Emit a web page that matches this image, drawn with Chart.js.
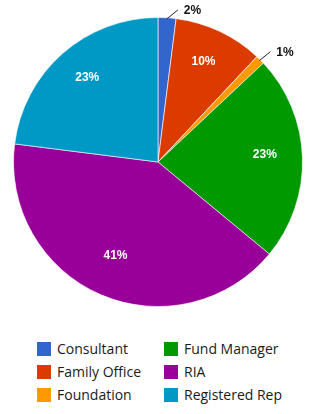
<!DOCTYPE html>
<html>
<head>
<meta charset="utf-8">
<script src="https://cdn.jsdelivr.net/npm/chart.js@4/dist/chart.umd.min.js"></script>
<style>
  html, body { margin: 0; padding: 0; background: #fff; }
  #wrap { position: relative; width: 324px; height: 322px; }
  #legend { position: relative; width: 324px; height: 92px; font-family: "Open Sans", sans-serif; font-size: 14px; color: #1a1a1a; }
  .col { position: absolute; top: 15px; }
  .item { height: 23px; display: flex; align-items: center; white-space: nowrap; }
  .box { width: 14px; height: 14px; margin-right: 6px; flex: none; }
</style>
</head>
<body>
<div id="wrap"><canvas id="c"></canvas></div>
<div id="legend"></div>
<script>
const categories = ["Consultant", "Family Office", "Foundation", "Fund Manager", "RIA", "Registered Rep"];
const values = [2, 10, 1, 23, 41, 23];
const colors = ["#3366cc", "#dc3b00", "#ff9900", "#009900", "#990099", "#0099c6"];

const labelPlugin = {
  id: 'sliceLabels',
  afterDatasetsDraw(chart) {
    const ctx = chart.ctx;
    const meta = chart.getDatasetMeta(0);
    const total = values.reduce((a, b) => a + b, 0);
    meta.data.forEach((arc, i) => {
      const p = arc.getProps(['x', 'y', 'startAngle', 'endAngle', 'outerRadius'], true);
      const frac = values[i] / total;
      const txt = Math.round(frac * 100) + '%';
      const mid = (p.startAngle + p.endAngle) / 2;
      ctx.save();
      ctx.font = 'bold 12px "Liberation Sans", Arial, sans-serif';
      if (frac >= 0.05) {
        const r = p.outerRadius * 0.74;
        ctx.fillStyle = '#ffffff';
        ctx.textAlign = 'center';
        ctx.textBaseline = 'middle';
        ctx.fillText(txt, p.x + r * Math.cos(mid), p.y + r * Math.sin(mid) - 4);
      } else {
        const rs = p.outerRadius - 1;
        const sx = p.x + rs * Math.cos(mid), sy = p.y + rs * Math.sin(mid);
        const dir = Math.max(mid, -Math.PI / 4.6);
        const L = 14;
        const ex = sx + L * Math.cos(dir), ey = sy + L * Math.sin(dir);
        ctx.strokeStyle = '#222';
        ctx.lineWidth = 1;
        ctx.beginPath();
        ctx.moveTo(sx, sy);
        ctx.lineTo(ex, ey);
        ctx.stroke();
        ctx.fillStyle = '#111';
        ctx.textAlign = 'left';
        ctx.textBaseline = 'middle';
        ctx.fillText(txt, ex + 6, ey + 1);
      }
      ctx.restore();
    });
  }
};

new Chart(document.getElementById('c'), {
  type: 'pie',
  data: {
    labels: categories,
    datasets: [{
      data: values,
      backgroundColor: colors,
      borderColor: 'rgba(255,255,255,0.6)',
      borderWidth: 1
    }]
  },
  options: {
    responsive: true,
    maintainAspectRatio: false,
    animation: false,
    layout: { padding: { top: 17, bottom: 15, left: 13, right: 21 } },
    plugins: { legend: { display: false }, tooltip: { enabled: false } }
  },
  plugins: [labelPlugin]
});

// HTML legend, column-major (3 rows)
const legend = document.getElementById('legend');
const colLeft = [37, 164];
for (let c = 0; c < 2; c++) {
  const col = document.createElement('div');
  col.className = 'col';
  col.style.left = colLeft[c] + 'px';
  for (let r = 0; r < 3; r++) {
    const i = c * 3 + r;
    const item = document.createElement('div');
    item.className = 'item';
    const box = document.createElement('span');
    box.className = 'box';
    box.style.background = colors[i];
    const t = document.createElement('span');
    t.textContent = categories[i];
    item.appendChild(box);
    item.appendChild(t);
    col.appendChild(item);
  }
  legend.appendChild(col);
}
</script>
</body>
</html>
